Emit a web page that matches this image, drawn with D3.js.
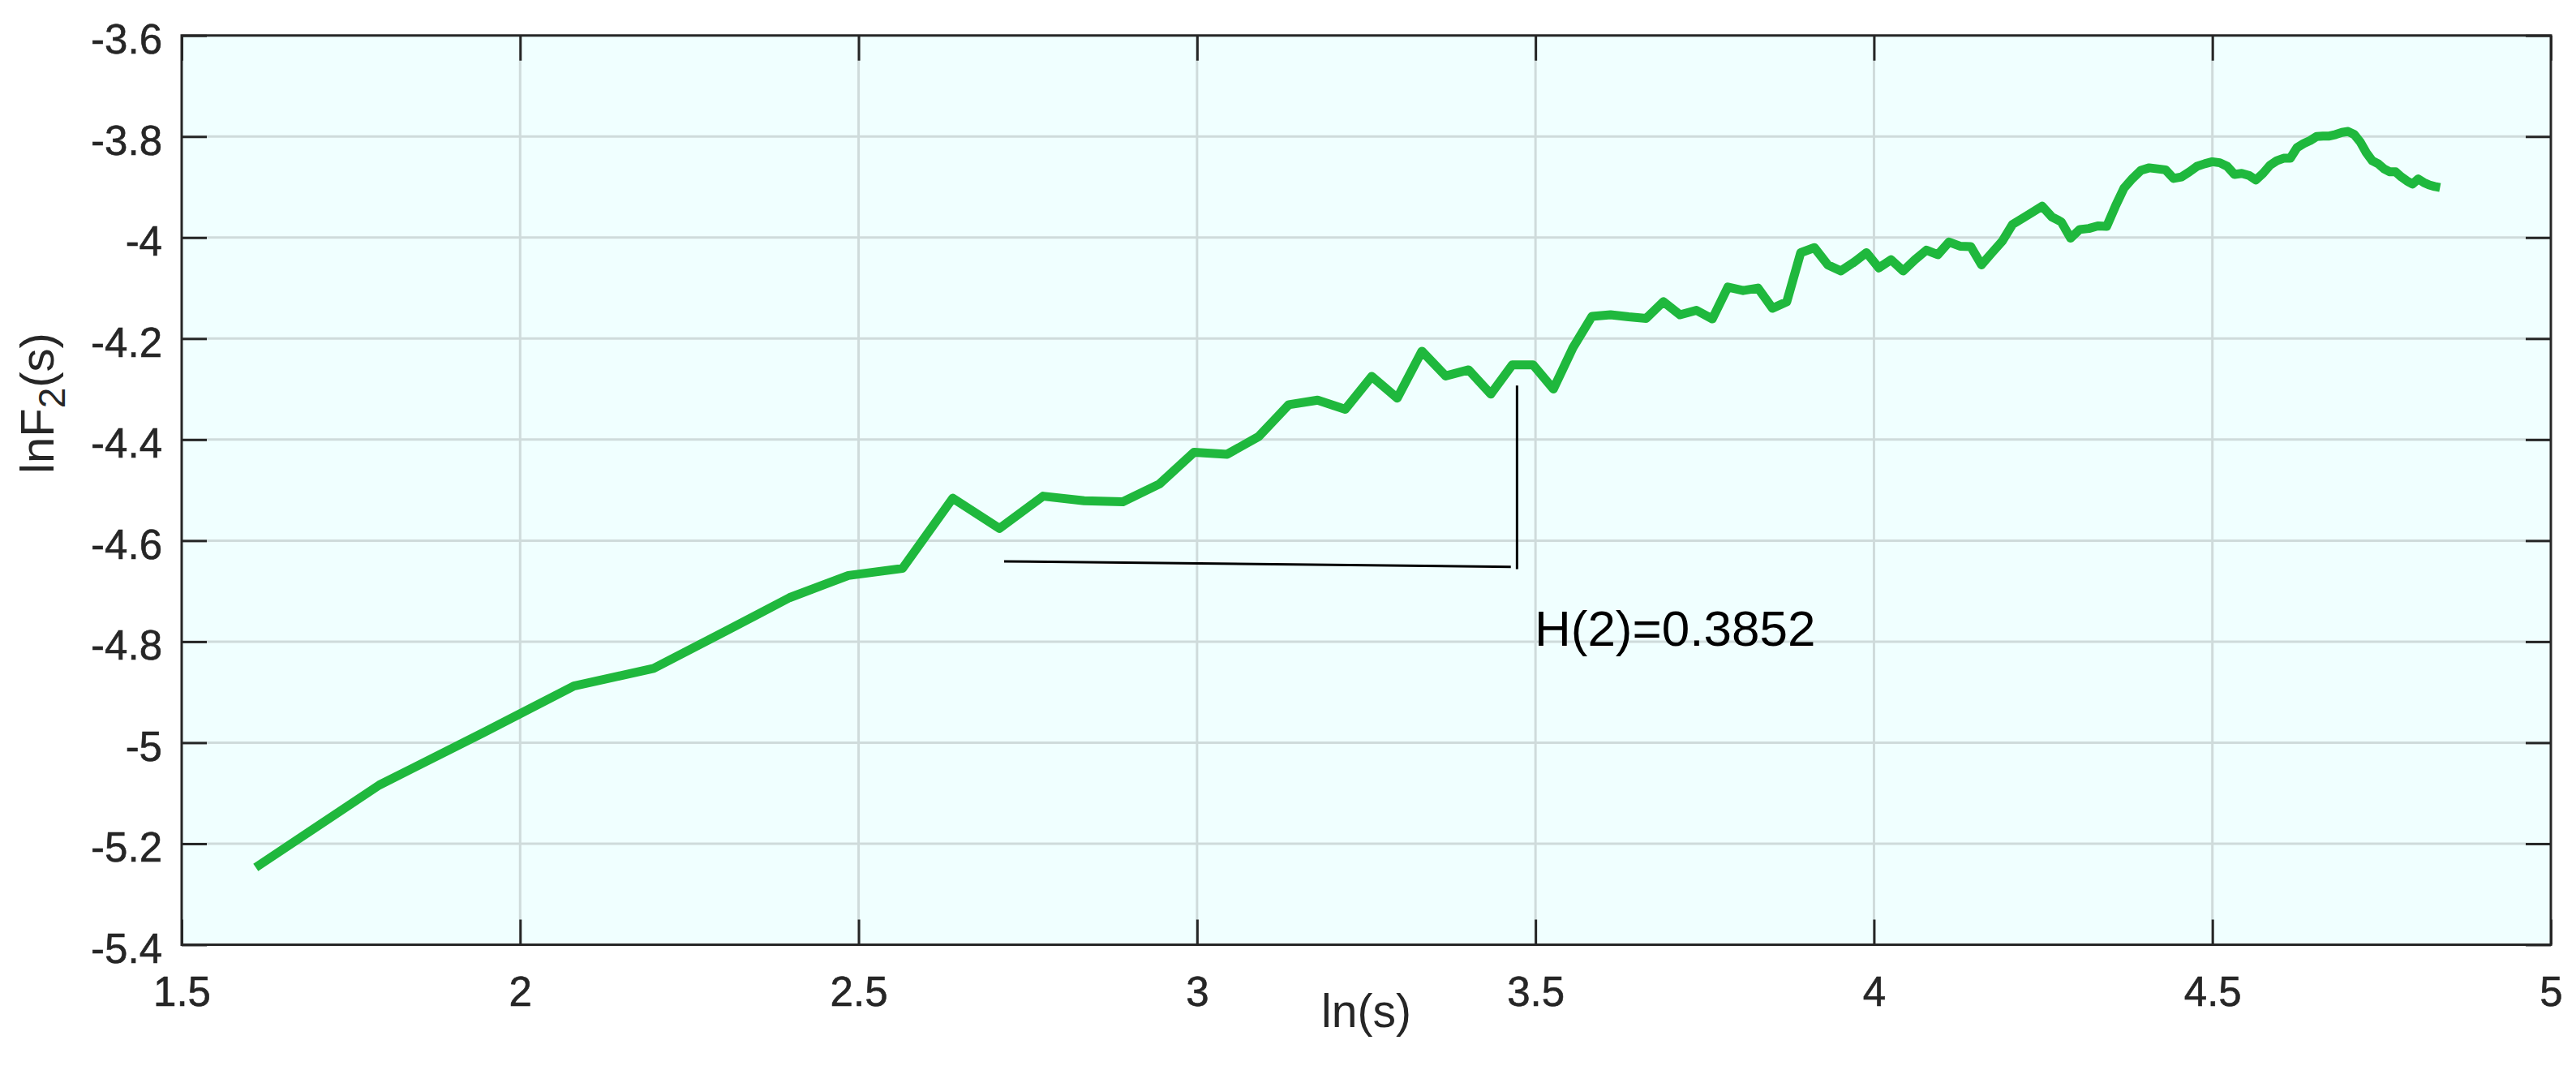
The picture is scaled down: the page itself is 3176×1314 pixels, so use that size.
<!DOCTYPE html>
<html><head><meta charset="utf-8">
<script src="https://cdn.jsdelivr.net/npm/d3@7"></script>
<style>html,body{margin:0;padding:0;background:#fff;} svg{display:block;font-family:"Liberation Sans",Arial,Helvetica,sans-serif;}</style>
</head><body><svg id="chart" width="3176" height="1314"></svg>
<script>
// x values: ln(s)
const lnS = [1.6094,1.7918,1.9459,2.0794,2.1972,2.3026,2.3979,2.4849,2.5649,2.6391,
2.7081,2.7726,2.8332,2.8904,2.9444,2.9957,3.0445,3.0910,3.1355,3.1781,
3.2189,3.2581,3.2958,3.3322,3.3673,3.4012,3.4340,3.4657,3.4965,3.5264,
3.5553,3.5835,3.6109,3.6376,3.6636,3.6889,3.7136,3.7377,3.7612,3.7842,
3.8067,3.8286,3.8501,3.8712,3.8918,3.9120,3.9318,3.9512,3.9703,3.9890,
4.0073,4.0254,4.0431,4.0604,4.0775,4.0943,4.1109,4.1271,4.1431,4.1589,
4.1744,4.1897,4.2047,4.2195,4.2341,4.2485,4.2627,4.2767,4.2905,4.3041,
4.3175,4.3307,4.3438,4.3567,4.3694,4.3820,4.3944,4.4067,4.4188,4.4308,
4.4427,4.4543,4.4659,4.4773,4.4886,4.4998,4.5109,4.5218,4.5326,4.5433,
4.5539,4.5643,4.5747,4.5850,4.5951,4.6052,4.6151,4.6250,4.6347,4.6444,
4.6540,4.6634,4.6728,4.6821,4.6913,4.7005,4.7095,4.7185,4.7274,4.7362,
4.7449,4.7536,4.7622,4.7707,4.7791,4.7875,4.7958,4.8040,4.8122,4.8203,
4.8283,4.8363];
// y values: lnF2(s)
const lnF2 = [-5.247,-5.084,-4.980,-4.888,-4.853,-4.780,-4.713,-4.669,-4.655,-4.516,
-4.576,-4.512,-4.521,-4.523,-4.488,-4.425,-4.429,-4.394,-4.331,-4.322,
-4.340,-4.275,-4.318,-4.225,-4.274,-4.262,-4.310,-4.252,-4.252,-4.300,
-4.218,-4.156,-4.153,-4.157,-4.160,-4.127,-4.153,-4.144,-4.161,-4.098,
-4.105,-4.100,-4.140,-4.127,-4.030,-4.020,-4.054,-4.066,-4.049,-4.030,
-4.060,-4.044,-4.066,-4.044,-4.025,-4.034,-4.009,-4.017,-4.018,-4.054,
-4.030,-4.007,-3.974,-3.962,-3.950,-3.938,-3.959,-3.969,-4.001,-3.984,
-3.982,-3.977,-3.978,-3.938,-3.902,-3.883,-3.867,-3.862,-3.864,-3.866,
-3.883,-3.880,-3.870,-3.859,-3.854,-3.850,-3.852,-3.859,-3.875,-3.873,
-3.877,-3.886,-3.873,-3.857,-3.848,-3.843,-3.843,-3.822,-3.814,-3.808,
-3.800,-3.799,-3.799,-3.796,-3.792,-3.790,-3.796,-3.811,-3.832,-3.848,
-3.854,-3.864,-3.870,-3.870,-3.880,-3.888,-3.894,-3.884,-3.891,-3.896,
-3.899,-3.901];

const xTicks = [1.5,2,2.5,3,3.5,4,4.5,5];
const xTickLabels = ["1.5","2","2.5","3","3.5","4","4.5","5"];
const yTicks = [-5.4,-5.2,-5,-4.8,-4.6,-4.4,-4.2,-4,-3.8,-3.6];
const yTickLabels = ["-5.4","-5.2","-5","-4.8","-4.6","-4.4","-4.2","-4","-3.8","-3.6"];

// slope annotation
const runX = [2.715, 3.4636];
const runY = [-4.641, -4.652];
const riseX = [3.4727, 3.4727];
const riseY = [-4.293, -4.6565];
const noteText = "H(2)=0.3852";
const notePos = [3.4986, -4.808];

const W = 3176, H = 1314;
const L = 224, R = 3145, T = 43.75, B = 1164.5;
const svg = d3.select("#chart");
svg.append("rect").attr("width", W).attr("height", H).attr("fill", "#ffffff");

const x = d3.scaleLinear().domain([1.5, 5]).range([L, R]);
const y = d3.scaleLinear().domain([-5.4, -3.6]).range([B, T]);

svg.append("rect").attr("x", L).attr("y", T).attr("width", R - L).attr("height", B - T).attr("fill", "#f0ffff");

const grid = svg.append("g").attr("stroke", "#cfdbdb").attr("stroke-width", 3);
grid.selectAll("line.gx").data(xTicks.slice(1, -1)).join("line")
  .attr("x1", d => x(d)).attr("x2", d => x(d)).attr("y1", T).attr("y2", B);
grid.selectAll("line.gy").data(yTicks.slice(1, -1)).join("line")
  .attr("y1", d => y(d)).attr("y2", d => y(d)).attr("x1", L).attr("x2", R);

const pts = lnS.map((v, i) => [v, lnF2[i]]);
svg.append("path").datum(pts)
  .attr("fill", "none").attr("stroke", "#1fb83d").attr("stroke-width", 11)
  .attr("stroke-linejoin", "round").attr("stroke-linecap", "butt")
  .attr("d", d3.line().x(d => x(d[0])).y(d => y(d[1])));

const ann = svg.append("g").attr("stroke", "#000").attr("stroke-width", 3).attr("fill", "none");
ann.append("line").attr("x1", x(runX[0])).attr("x2", x(runX[1])).attr("y1", y(runY[0])).attr("y2", y(runY[1]));
ann.append("line").attr("x1", x(riseX[0])).attr("x2", x(riseX[1])).attr("y1", y(riseY[0])).attr("y2", y(riseY[1]));
svg.append("text").attr("x", x(notePos[0])).attr("y", y(notePos[1]))
  .attr("font-size", 62).attr("fill", "#000").text(noteText);

// axes
const tickCol = "#262626";
const gb = svg.append("g").attr("transform", `translate(0,${B})`)
  .call(d3.axisBottom(x).tickValues(xTicks).tickSize(-31).tickPadding(39.5).tickFormat((d, i) => xTickLabels[i]));
const gt = svg.append("g").attr("transform", `translate(0,${T})`)
  .call(d3.axisTop(x).tickValues(xTicks).tickSize(-31).tickFormat(""));
const gl = svg.append("g").attr("transform", `translate(${L},0)`)
  .call(d3.axisLeft(y).tickValues(yTicks).tickSize(-31).tickPadding(24).tickFormat((d, i) => yTickLabels[i]));
const gr = svg.append("g").attr("transform", `translate(${R},0)`)
  .call(d3.axisRight(y).tickValues(yTicks).tickSize(-31).tickFormat(""));
[gb, gt, gl, gr].forEach(g => {
  g.select(".domain").remove();
  g.selectAll(".tick line").attr("stroke", tickCol).attr("stroke-width", 3);
  g.selectAll(".tick text").attr("fill", tickCol).attr("font-size", 51)
    .attr("stroke", tickCol).attr("stroke-width", 0.6)
    .attr("font-family", '"Liberation Sans",Arial,Helvetica,sans-serif');
});
gl.selectAll(".tick text").attr("dy", "0.43em");

svg.append("rect").attr("x", L).attr("y", T).attr("width", R - L).attr("height", B - T)
  .attr("fill", "none").attr("stroke", tickCol).attr("stroke-width", 3);

// axis labels
svg.append("text").attr("x", (L + R) / 2).attr("y", 1266).attr("text-anchor", "middle")
  .attr("font-size", 57).attr("fill", tickCol).text("ln(s)");
const yl = svg.append("text").attr("transform", "translate(66,497) rotate(-90)")
  .attr("text-anchor", "middle").attr("font-size", 58).attr("fill", tickCol);
yl.append("tspan").text("lnF");
yl.append("tspan").attr("dy", 14).attr("font-size", 46).text("2");
yl.append("tspan").attr("dy", -14).text("(s)");
</script></body></html>
